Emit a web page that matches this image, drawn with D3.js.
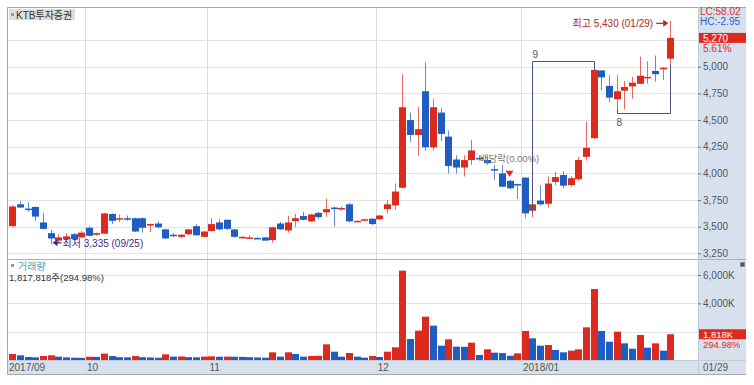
<!DOCTYPE html>
<html>
<head>
<meta charset="utf-8">
<script src="https://cdn.jsdelivr.net/npm/d3@7"></script>
<style>
body { margin: 0; background: #fff; }
text { font-family: "Liberation Sans", "Noto Sans CJK KR", sans-serif; }
</style>
</head>
<body>
<div id="chart"></div>
<script>
(function() {

var dates = [
    "2017/09/18","2017/09/19","2017/09/20","2017/09/21","2017/09/22","2017/09/25","2017/09/26","2017/09/27","2017/09/28","2017/09/29",
    "2017/10/10","2017/10/11","2017/10/12","2017/10/13","2017/10/16","2017/10/17","2017/10/18","2017/10/19","2017/10/20","2017/10/23",
    "2017/10/24","2017/10/25","2017/10/26","2017/10/27","2017/10/30","2017/10/31",
    "2017/11/01","2017/11/02","2017/11/03","2017/11/06","2017/11/07","2017/11/08","2017/11/09","2017/11/10","2017/11/13","2017/11/14",
    "2017/11/15","2017/11/16","2017/11/17","2017/11/20","2017/11/21","2017/11/22","2017/11/23","2017/11/24","2017/11/27","2017/11/28",
    "2017/11/29","2017/11/30",
    "2017/12/01","2017/12/04","2017/12/05","2017/12/06","2017/12/07","2017/12/08","2017/12/11","2017/12/12","2017/12/13","2017/12/14",
    "2017/12/15","2017/12/18","2017/12/19","2017/12/20","2017/12/21","2017/12/22","2017/12/26","2017/12/27","2017/12/28",
    "2018/01/02","2018/01/03","2018/01/04","2018/01/05","2018/01/08","2018/01/09","2018/01/10","2018/01/11","2018/01/12","2018/01/15",
    "2018/01/16","2018/01/17","2018/01/18","2018/01/19","2018/01/22","2018/01/23","2018/01/24","2018/01/25","2018/01/26","2018/01/29"
];

var opens = [
    3505, 3710, 3670, 3685, 3540, 3440, 3370, 3385, 3430, 3400,
    3490, 3425, 3435, 3620, 3575, 3580, 3580, 3580, 3510, 3530,
    3475, 3425, 3405, 3430, 3505, 3405, 3460, 3540, 3565, 3475,
    3400, 3395, 3395, 3400, 3375, 3530, 3465, 3553, 3600, 3550,
    3630, 3635, 3680, 3670, 3710, 3550, 3565, 3575, 3570, 3665,
    3700, 3865, 4500, 4360, 4770, 4245, 4570, 4345, 4130, 4055,
    4125, 4145, 4125, 4040, 4000, 3930, 3900, 3960, 3650, 3745,
    3715, 3920, 3985, 3890, 3945, 4155, 4330, 4965, 4820, 4695,
    4775, 4815, 4840, 4900, 4960, 4985, 5075
];
var highs = [
    3700, 3740, 3730, 3690, 3630, 3470, 3430, 3440, 3440, 3460,
    3505, 3445, 3630, 3625, 3615, 3605, 3585, 3590, 3530, 3550,
    3480, 3440, 3430, 3480, 3525, 3460, 3580, 3570, 3570, 3480,
    3415, 3420, 3405, 3405, 3500, 3545, 3600, 3620, 3640, 3620,
    3640, 3765, 3690, 3690, 3720, 3560, 3575, 3580, 3610, 3750,
    3905, 4930, 4570, 4625, 5040, 4700, 4610, 4400, 4170, 4170,
    4315, 4170, 4155, 4080, 4080, 3940, 3905, 3965, 3715, 3890,
    3970, 4015, 4020, 3975, 4155, 4485, 4970, 4970, 4920, 4920,
    4865, 4905, 5095, 5050, 5105, 4995, 5430
];
var lows = [
    3500, 3675, 3640, 3555, 3475, 3335, 3350, 3370, 3370, 3390,
    3410, 3415, 3430, 3525, 3545, 3555, 3450, 3445, 3450, 3485,
    3385, 3405, 3390, 3420, 3415, 3400, 3455, 3465, 3470, 3400,
    3390, 3385, 3385, 3365, 3350, 3470, 3445, 3495, 3560, 3545,
    3570, 3595, 3500, 3650, 3540, 3545, 3555, 3515, 3565, 3625,
    3660, 3860, 4295, 4165, 4210, 4215, 4305, 4000, 4000, 3970,
    4080, 4120, 4080, 3940, 3870, 3850, 3760, 3580, 3590, 3700,
    3680, 3890, 3860, 3875, 3930, 4120, 4320, 4780, 4665, 4610,
    4600, 4700, 4840, 4840, 4860, 4875, 5030
];
var closes = [
    3690, 3680, 3660, 3595, 3480, 3390, 3400, 3410, 3385, 3445,
    3415, 3440, 3625, 3555, 3580, 3575, 3455, 3490, 3525, 3495,
    3390, 3420, 3425, 3475, 3420, 3455, 3525, 3475, 3480, 3405,
    3405, 3400, 3390, 3370, 3495, 3475, 3540, 3580, 3565, 3615,
    3590, 3665, 3675, 3675, 3550, 3555, 3570, 3525, 3605, 3710,
    3830, 4620, 4360, 4415, 4245, 4620, 4370, 4070, 4055, 4125,
    4215, 4140, 4095, 4035, 3875, 3860, 3895, 3625, 3710, 3710,
    3905, 3965, 3885, 3955, 4125, 4240, 4970, 4900, 4710, 4770,
    4810, 4850, 4915, 4905, 4930, 4990, 5270
];
// volume in thousands of shares
var volumes = [
    424, 330, 212, 188, 282, 330, 235, 188, 165, 150,
    230, 220, 450, 280, 200, 190, 280, 200, 180, 160,
    400, 240, 250, 200, 190, 240, 260, 230, 240, 230,
    220, 200, 180, 165, 541, 235, 541, 424, 235, 282,
    300, 1106, 588, 235, 494, 235, 165, 282, 212, 588,
    894, 6306, 1482, 2071, 3059, 2424, 1012, 1459, 941, 930,
    1224, 353, 753, 518, 490, 300, 471, 2047, 1529, 1012,
    1059, 706, 541, 659, 753, 2306, 5012, 2047, 1294, 2000,
    1176, 800, 1765, 871, 1176, 659, 1818
];

var priceGrid   = [3250, 3500, 3750, 4000, 4250, 4500, 4750, 5000, 5250];
var priceTicks  = [3250, 3500, 3750, 4000, 4250, 4500, 4750, 5000];
var volumeGrid  = [2000, 4000, 6000];
var volumeTicks = [4000, 6000];
var monthStarts = [0, 10, 26, 48, 67];
var monthNames  = ["2017/09", "10", "11", "12", "2018/01"];
var countBoxes  = [{from: 68, to: 76, label: "9", dir: "up"},
                   {from: 79, to: 86, label: "8", dir: "down"}];
var exDividendIndex = 65;

var stockName   = "KTB투자증권",
    lcText      = "LC:58.02",
    hcText      = "HC:-2.95",
    volumeTitle = "거래량",
    volumeInfo  = "1,817,818주(294.98%)",
    volumeRatio = "294.98%",
    exDivText   = "배당락(0.00%)";

var RED = "#dc2b1e", BLUE = "#1f5dc2";

/**
 * Layout of the frame (pixels).
 */
var frame = {left: 7, right: 698, outer: 746, top: 7, priceBottom: 259,
             volBottom: 360, bottom: 374};

var svg = d3.select("#chart").append("svg")
                              .attr("width", 754)
                              .attr("height", 385);

var x = d3.scaleBand()
          .domain(d3.range(dates.length))
          .range([8.5, 674])
          .paddingInner(0.22)
          .paddingOuter(0.11);
var xc = function(i) { return x(i) + x.bandwidth() / 2; };
var slotLeft = function(i) { return x(i) - x.step() * 0.11; };

var y = d3.scaleLinear()
          .domain([3250, 5000])
          .range([253.4, 66.7]);

var yv = d3.scaleLinear()
           .domain([0, 6000])
           .range([frame.volBottom, 275]);

var fmt = d3.format(",");

// right axis panel and date strip backgrounds
svg.append("rect")
   .attr("x", frame.right).attr("y", frame.top)
   .attr("width", frame.outer - frame.right).attr("height", frame.bottom - frame.top)
   .attr("fill", "#d7e1ee");
svg.append("rect")
   .attr("x", frame.left).attr("y", frame.volBottom)
   .attr("width", frame.right - frame.left).attr("height", frame.bottom - frame.volBottom)
   .attr("fill", "#d7e1ee");

// horizontal grid
svg.append("g").selectAll("line")
   .data(priceGrid)
   .join("line")
   .attr("x1", frame.left).attr("x2", frame.right)
   .attr("y1", function(d) { return Math.round(y(d)) + 0.5; })
   .attr("y2", function(d) { return Math.round(y(d)) + 0.5; })
   .attr("stroke", "#e3e3e3");
svg.append("g").selectAll("line")
   .data(volumeGrid)
   .join("line")
   .attr("x1", frame.left).attr("x2", frame.right)
   .attr("y1", function(d) { return Math.round(yv(d)) + 0.5; })
   .attr("y2", function(d) { return Math.round(yv(d)) + 0.5; })
   .attr("stroke", "#e3e3e3");

// vertical month grid
svg.append("g").selectAll("line")
   .data(monthStarts.slice(1))
   .join("line")
   .attr("x1", function(d) { return Math.round(slotLeft(d)) + 0.5; })
   .attr("x2", function(d) { return Math.round(slotLeft(d)) + 0.5; })
   .attr("y1", frame.top).attr("y2", frame.bottom)
   .attr("stroke", "#dcdcdc");

// frame lines
var hline = function(yy, x1, x2, color) {
    svg.append("line").attr("x1", x1).attr("x2", x2)
       .attr("y1", yy + 0.5).attr("y2", yy + 0.5).attr("stroke", color);
};
hline(frame.top, frame.left, frame.outer, "#a8a8a8");
hline(frame.priceBottom, frame.left, frame.outer, "#b0b0b0");
hline(frame.volBottom, frame.left, frame.outer, "#c4ccd8");
hline(frame.bottom, frame.left, frame.outer, "#a8a8a8");
svg.append("line").attr("x1", frame.left + 0.5).attr("x2", frame.left + 0.5)
   .attr("y1", frame.top).attr("y2", frame.bottom).attr("stroke", "#a8a8a8");
svg.append("line").attr("x1", frame.right + 0.5).attr("x2", frame.right + 0.5)
   .attr("y1", frame.top).attr("y2", frame.bottom).attr("stroke", "#c0cad8");

/**
 * Candles.
 */
var idx = d3.range(dates.length);
var candleColor = function(i) { return closes[i] >= opens[i] ? RED : BLUE; };

var candles = svg.append("g").selectAll("g")
                 .data(idx)
                 .join("g");
candles.append("line")
       .attr("x1", function(i) { return Math.round(xc(i)) + 0.5; })
       .attr("x2", function(i) { return Math.round(xc(i)) + 0.5; })
       .attr("y1", function(i) { return y(highs[i]); })
       .attr("y2", function(i) { return y(lows[i]); })
       .attr("stroke", candleColor)
       .attr("stroke-opacity", 0.7);
candles.append("rect")
       .attr("x", function(i) { return Math.round(xc(i)) - 3; })
       .attr("width", 7)
       .attr("y", function(i) { return y(Math.max(opens[i], closes[i])); })
       .attr("height", function(i) { return Math.max(1.5, Math.abs(y(opens[i]) - y(closes[i]))); })
       .attr("fill", candleColor);

/**
 * Volume bars, red when volume rose from the previous day.
 */
svg.append("g").selectAll("rect")
   .data(idx)
   .join("rect")
   .attr("x", function(i) { return Math.round(xc(i)) - 3; })
   .attr("width", 7)
   .attr("y", function(i) { return yv(volumes[i]); })
   .attr("height", function(i) { return frame.volBottom - yv(volumes[i]); })
   .attr("fill", function(i) { return (i === 0 || volumes[i] > volumes[i - 1]) ? RED : BLUE; });

/**
 * Axes on the right.
 */
var styleAxis = function(g) {
    g.select(".domain").remove();
    g.selectAll(".tick line").attr("stroke", "#777");
    g.selectAll(".tick text").attr("fill", "#555").attr("font-size", "10px")
     .attr("font-family", "Liberation Sans, sans-serif");
};
svg.append("g")
   .attr("transform", "translate(" + frame.right + ",0)")
   .call(d3.axisRight(y).tickValues(priceTicks).tickSize(3).tickPadding(2).tickFormat(fmt))
   .call(styleAxis);
svg.append("g")
   .attr("transform", "translate(" + frame.right + ",0)")
   .call(d3.axisRight(yv).tickValues(volumeTicks).tickSize(3).tickPadding(2)
             .tickFormat(function(d) { return fmt(d) + "K"; }))
   .call(styleAxis);

// month labels
svg.append("g").selectAll("text")
   .data(monthStarts)
   .join("text")
   .attr("x", function(d, k) { return k === 0 ? frame.left + 2 : slotLeft(d) + 2; })
   .attr("y", 371)
   .attr("font-size", "10px")
   .attr("fill", "#555")
   .text(function(d, k) { return monthNames[k]; });
svg.append("text")
   .attr("x", frame.right + 5).attr("y", 371)
   .attr("font-size", "10px").attr("fill", "#555")
   .text(dates[dates.length - 1].slice(5));

/**
 * Current value labels.
 */
var last = dates.length - 1;
var change = (closes[last] / closes[last - 1] - 1) * 100;
svg.append("rect")
   .attr("x", frame.right + 1).attr("y", y(closes[last]) - 5)
   .attr("width", frame.outer - frame.right - 1).attr("height", 10)
   .attr("fill", RED);
svg.append("text")
   .attr("x", frame.right + 5).attr("y", y(closes[last]) + 4)
   .attr("font-size", "10px").attr("fill", "#fff")
   .text(fmt(closes[last]));
svg.append("text")
   .attr("x", frame.right + 5).attr("y", y(closes[last]) + 14)
   .attr("font-size", "10px").attr("fill", RED)
   .text(change.toFixed(2) + "%");

svg.append("rect")
   .attr("x", frame.right + 1).attr("y", yv(volumes[last]) - 5)
   .attr("width", frame.outer - frame.right - 1).attr("height", 10)
   .attr("fill", RED);
svg.append("text")
   .attr("x", frame.right + 5).attr("y", yv(volumes[last]) + 3.5)
   .attr("font-size", "9.5px").attr("fill", "#fff")
   .text(fmt(volumes[last]) + "K");
svg.append("text")
   .attr("x", frame.right + 5).attr("y", yv(volumes[last]) + 14)
   .attr("font-size", "9.5px").attr("fill", RED)
   .text(volumeRatio);

svg.append("text").attr("x", frame.right + 2).attr("y", 15)
   .attr("font-size", "10px").attr("fill", "#d0342a").text(lcText);
svg.append("text").attr("x", frame.right + 2).attr("y", 25)
   .attr("font-size", "10px").attr("fill", "#3558c8").text(hcText);

// small box icon of the volume pane
svg.append("rect").attr("x", 740.5).attr("y", 262.5).attr("width", 4).attr("height", 4)
   .attr("fill", "#555").attr("stroke", "#888");

/**
 * Titles.
 */
svg.append("rect").attr("x", 9).attr("y", 9).attr("width", 66).attr("height", 11)
   .attr("fill", "#dedede");
svg.append("rect").attr("x", 11).attr("y", 13).attr("width", 3).attr("height", 3)
   .attr("fill", "#999");
svg.append("text").attr("x", 16).attr("y", 18.5)
   .attr("font-size", "10px").attr("fill", "#333").text(stockName);

svg.append("rect").attr("x", 11).attr("y", 264).attr("width", 3).attr("height", 3)
   .attr("fill", "#999");
svg.append("text").attr("x", 18).attr("y", 269.5)
   .attr("font-size", "10px").attr("fill", "#4fa3b6").text(volumeTitle);
svg.append("text").attr("x", 9).attr("y", 281)
   .attr("font-size", "9.5px").attr("fill", "#333").text(volumeInfo);

/**
 * High / low markers.
 */
var hi = d3.maxIndex(highs), lo = d3.minIndex(lows);
var hiY = y(highs[hi]) + 2.5;
svg.append("text")
   .attr("x", xc(hi) - 17).attr("y", hiY + 4)
   .attr("text-anchor", "end")
   .attr("font-size", "10px").attr("fill", "#b3261e")
   .text("최고 " + fmt(highs[hi]) + " (" + dates[hi].slice(5) + ")");
svg.append("line")
   .attr("x1", xc(hi) - 14).attr("x2", xc(hi) - 4)
   .attr("y1", hiY).attr("y2", hiY)
   .attr("stroke", "#b3261e").attr("stroke-width", 1.2);
svg.append("path")
   .attr("d", "M" + (xc(hi) - 2) + "," + hiY + "l-5,-3.5v7z")
   .attr("fill", "#b3261e");

var loY = y(lows[lo]) - 1.5;
svg.append("path")
   .attr("d", "M" + (xc(lo) + 2) + "," + loY + "l5,-3.5v7z")
   .attr("fill", "#3b2a8c");
svg.append("line")
   .attr("x1", xc(lo) + 6).attr("x2", xc(lo) + 11)
   .attr("y1", loY).attr("y2", loY)
   .attr("stroke", "#3b2a8c").attr("stroke-width", 1.2);
svg.append("text")
   .attr("x", xc(lo) + 12).attr("y", loY + 4)
   .attr("font-size", "10px").attr("fill", "#3b2a8c")
   .text("최저 " + fmt(lows[lo]) + " (" + dates[lo].slice(5) + ")");

/**
 * Ex-dividend marker.
 */
var exX = xc(exDividendIndex), exY = y(highs[exDividendIndex]);
svg.append("path")
   .attr("d", "M" + (exX - 4) + "," + (exY - 9) + "h8l-4,6z")
   .attr("fill", RED);
svg.append("text")
   .attr("x", exX).attr("y", exY - 18)
   .attr("text-anchor", "middle")
   .attr("font-size", "9.5px").attr("fill", "#777")
   .text(exDivText);

/**
 * Count boxes over consecutive runs.
 */
countBoxes.forEach(function(b) {
    var x1 = Math.round(xc(b.from)) + 0.5, x2 = Math.round(xc(b.to)) + 0.5;
    var span = d3.range(b.from, b.to + 1);
    var path, lx, ly;
    if (b.dir === "up") {
        var top = Math.round(y(d3.max(span, function(i) { return highs[i]; })) - 9) + 0.5;
        path = "M" + x1 + "," + (y(lows[b.from]) - 4) + "V" + top + "H" + x2 + "V" + y(highs[b.to]);
        lx = x1; ly = top - 4;
    } else {
        var bottom = Math.round(y(d3.min(span, function(i) { return lows[i]; })) + 4) + 0.5;
        path = "M" + x1 + "," + y(lows[b.from]) + "V" + bottom + "H" + x2 + "V" + y(lows[b.to]);
        lx = x1 - 1; ly = bottom + 12;
    }
    svg.append("path").attr("d", path)
       .attr("fill", "none").attr("stroke", "#4b5580");
    svg.append("text").attr("x", lx).attr("y", ly)
       .attr("font-size", "10px").attr("fill", "#555").text(b.label);
});

})();
</script>
</body>
</html>
